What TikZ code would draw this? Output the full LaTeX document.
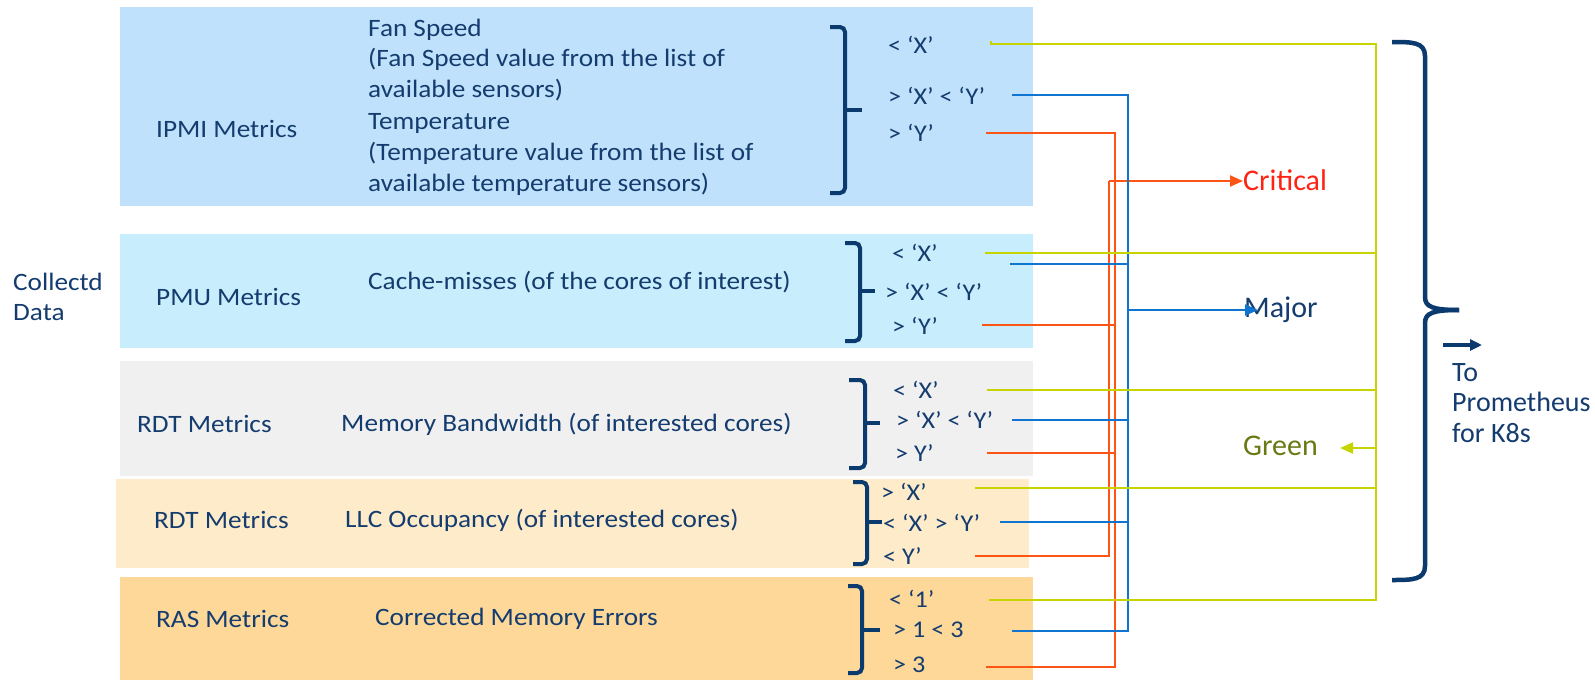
\documentclass[tikz,border=0pt]{standalone}
\usepackage{fontspec}
\setmainfont{Carlito}
\newfontfamily\widefont{Carlito}[FakeStretch=1.09]
\usetikzlibrary{arrows.meta}
\definecolor{navy}{RGB}{20,60,110}
\definecolor{brk}{RGB}{10,58,110}
\definecolor{ipmiC}{RGB}{191,225,251}
\definecolor{pmuC}{RGB}{200,238,253}
\definecolor{rdtC}{RGB}{240,240,240}
\definecolor{llcC}{RGB}{254,235,201}
\definecolor{rasC}{RGB}{253,216,152}
\definecolor{lime}{RGB}{200,212,0}
\definecolor{wire}{RGB}{16,117,208}
\definecolor{hot}{RGB}{255,85,20}
\definecolor{critC}{RGB}{255,35,20}
\definecolor{olive}{RGB}{105,122,20}
\tikzset{
  lbl/.style={font=\widefont\fontsize{25}{30.5}\selectfont, text=navy, inner sep=0pt, anchor=west, align=left},
  cond/.style={font=\widefont\fontsize{24}{28}\selectfont, text=navy, inner sep=0pt, anchor=west},
  state/.style={font=\fontsize{30}{34}\selectfont, inner sep=0pt, anchor=west},
  bracket/.style={draw=brk, line width=4pt, rounded corners=5pt},
  gl/.style={draw=lime, line width=2.2pt},
  bl/.style={draw=wire, line width=2.2pt},
  rl/.style={draw=hot, line width=2.2pt},
  tip/.style={-{Triangle[length=13pt,width=11pt]}}
}
\begin{document}
\begin{tikzpicture}[x=1pt,y=-1pt]
\fill[white] (0,0) rectangle (1595,680);
\useasboundingbox (0,0) rectangle (1595,680);

% metric bands
\fill[ipmiC] (120,7) rectangle (1033,206);
\fill[pmuC] (120,234) rectangle (1033,348);
\fill[rdtC] (120,361) rectangle (1033,476);
\fill[llcC] (116,479) rectangle (1029,568);
\fill[rasC] (120,577) rectangle (1033,680);

% left column
\node[lbl] (collectd) at (13,297) {Collectd\\Data};
\node[lbl] (ipmi) at (156,129) {IPMI Metrics};
\node[lbl] (pmu) at (156,297) {PMU Metrics};
\node[lbl] (rdt) at (137,424) {RDT Metrics};
\node[lbl] (rdt2) at (154,520) {RDT Metrics};
\node[lbl] (ras) at (156,619) {RAS Metrics};

% metric descriptions
\node[lbl, font=\widefont\fontsize{25}{30.6}\selectfont] (fan) at (368,107) {Fan Speed\\(Fan Speed value from the list of\\available sensors)\\[2pt]Temperature\\(Temperature value from the list of\\available temperature sensors)};
\node[lbl] (cache) at (368,282) {Cache-misses (of the cores of interest)};
\node[lbl] (mbw) at (341,424) {Memory Bandwidth (of interested cores)};
\node[lbl] (llc) at (345,520) {LLC Occupancy (of interested cores)};
\node[lbl] (cme) at (375,619) {Corrected Memory Errors};

% braces grouping the thresholds
\draw[bracket] (830,27) -- (845,27) -- (845,193) -- (830,193);
\draw[brk, line width=4pt] (845,110) -- (862,110);
\draw[bracket] (845,243) -- (860,243) -- (860,341) -- (845,341);
\draw[brk, line width=4pt] (860,291) -- (875,291);
\draw[bracket] (849,380) -- (865,380) -- (865,468) -- (849,468);
\draw[brk, line width=4pt] (865,423) -- (880,423);
\draw[bracket] (853,482) -- (867,482) -- (867,564) -- (853,564);
\draw[brk, line width=4pt] (867,522) -- (882,522);
\draw[bracket] (848,586) -- (862,586) -- (862,673) -- (848,673);
\draw[brk, line width=4pt] (862,630) -- (880,630);

% thresholds
\node[cond] (c11) at (888,45) {< ‘X’};
\node[cond] (c12) at (888,96) {> ‘X’ < ‘Y’};
\node[cond] (c13) at (888,133) {> ‘Y’};
\node[cond] (c21) at (892,253) {< ‘X’};
\node[cond] (c22) at (885,292) {> ‘X’ < ‘Y’};
\node[cond] (c23) at (892,326) {> ‘Y’};
\node[cond] (c31) at (893,390) {< ‘X’};
\node[cond] (c32) at (896,420) {> ‘X’ < ‘Y’};
\node[cond] (c33) at (895,453) {> Y’};
\node[cond] (c41) at (881,492) {> ‘X’};
\node[cond] (c42) at (883,523) {< ‘X’ > ‘Y’};
\node[cond] (c43) at (883,556) {< Y’};
\node[cond] (c51) at (889,599) {< ‘1’};
\node[cond] (c52) at (893,630) {> 1 < 3};
\node[cond] (c53) at (893,665) {> 3};

% states
\node[state, text=critC] (crit) at (1243,180) {Critical};
\node[state, text=navy] (major) at (1244,310) {Major};
\node[state, text=olive] (green) at (1243,446) {Green};

% wire start points
\coordinate (gs1) at (991,44);
\coordinate (gs2) at (985,253);
\coordinate (gs3) at (987,390);
\coordinate (gs4) at (975,488);
\coordinate (gs5) at (989,600);
\coordinate (bs1) at (1012,95);
\coordinate (bs2) at (1010,264);
\coordinate (bs3) at (1012,420);
\coordinate (bs4) at (1000,522);
\coordinate (bs5) at (1012,631);
\coordinate (rs1) at (986,133);
\coordinate (rs2) at (982,325);
\coordinate (rs3) at (987,453);
\coordinate (rs4) at (975,556);
\coordinate (rs5) at (986,667);

% buses
\coordinate (gtop) at (1376,44);
\coordinate (gbot) at (1376,600);
\coordinate (gmid) at (1376,448);
\coordinate (btop) at (1128,95);
\coordinate (bbot) at (1128,631);
\coordinate (bmid) at (1128,310);
\coordinate (rtop) at (1115,133);
\coordinate (rbot) at (1115,667);
\coordinate (rmid) at (1109,181);
\coordinate (rlow) at (1109,556);

% critical wires
\draw[rl] (rs1) -- (rtop) -- (rbot) -- (rs5);
\draw[rl] (rs2) -- (rs2 -| rtop);
\draw[rl] (rs3) -- (rs3 -| rtop);
\draw[rl] (rs4) -- (rlow) -- (rmid);
\draw[rl, tip] (rmid) -- (crit.west |- rmid);

% major wires
\draw[bl] (bs1) -- (btop) -- (bbot) -- (bs5);
\draw[bl] (bs2) -- (bs2 -| btop);
\draw[bl] (bs3) -- (bs3 -| btop);
\draw[bl] (bs4) -- (bs4 -| btop);
\draw[bl, tip] (bmid) -- ([xshift=14pt]major.west |- bmid);

% green wires
\draw[gl] ([yshift=3pt]gs1) -- (gs1) -- (gtop) -- (gbot) -- (gs5);
\draw[gl] (gs2) -- (gs2 -| gtop);
\draw[gl] (gs3) -- (gs3 -| gtop);
\draw[gl] (gs4) -- (gs4 -| gtop);
\draw[gl, tip] (gmid) -- ([xshift=22pt]green.east |- gmid);

% output brace
\draw[brk, line width=4.5pt] (1392,42) .. controls (1412,42) and (1425,42) .. (1425,56) -- (1425,297) .. controls (1425,307) and (1433,310) .. (1459,310);
\draw[brk, line width=4.5pt] (1392,580) .. controls (1412,580) and (1425,580) .. (1425,566) -- (1425,323) .. controls (1425,313) and (1433,310) .. (1459,310);
\coordinate (outA) at (1443,345);
\node[lbl, font=\fontsize{28}{30.5}\selectfont] (prom) at (1452,403) {To\\Prometheus\\for K8s};
\draw[brk, line width=3.5pt, -{Triangle[length=12pt,width=11pt]}] (outA) -- ([xshift=30pt]prom.north west |- outA);
\end{tikzpicture}
\end{document}
